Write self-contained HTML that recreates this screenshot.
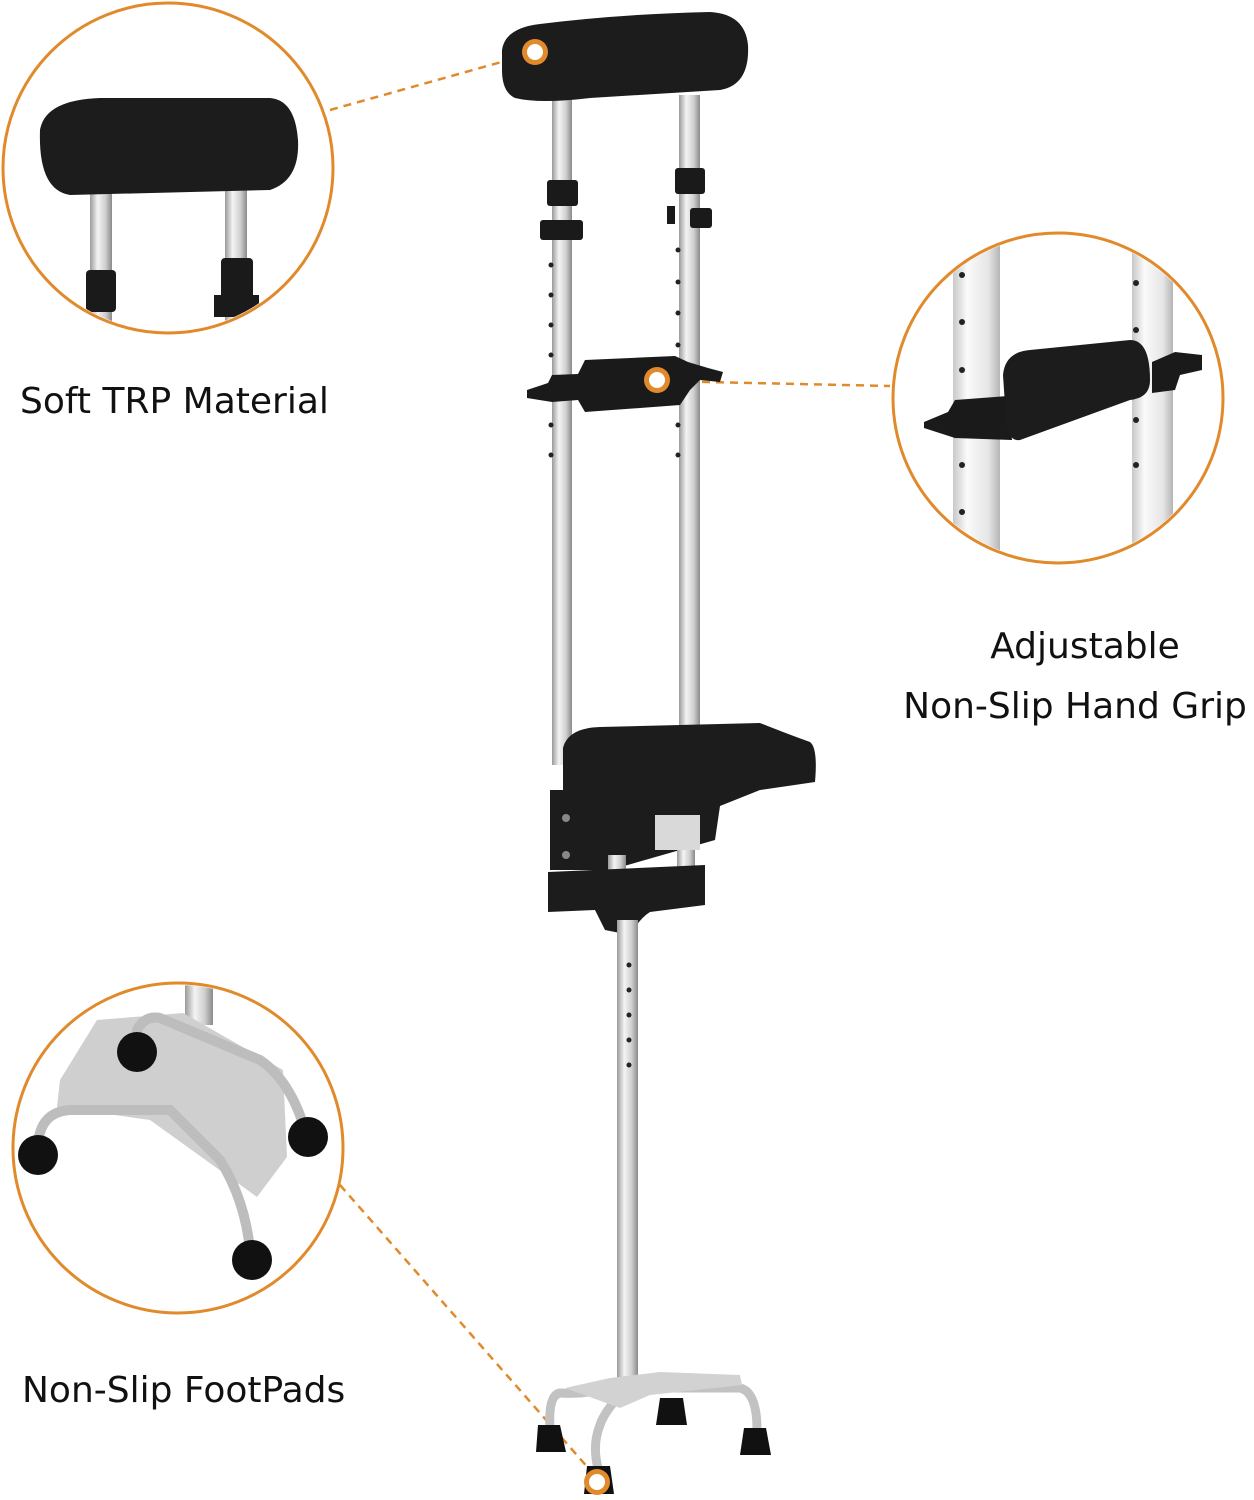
<!DOCTYPE html>
<html><head><meta charset="utf-8"><style>
html,body{margin:0;padding:0;background:#fff;width:1254px;height:1500px;overflow:hidden}
svg{display:block}
text{font-family:"DejaVu Sans","Liberation Sans",sans-serif;fill:#111}
</style></head><body>
<svg width="1254" height="1500" viewBox="0 0 1254 1500" xmlns="http://www.w3.org/2000/svg">
<defs>
<linearGradient id="al" x1="0" x2="1"><stop offset="0" stop-color="#9a9a9a"/><stop offset=".35" stop-color="#f4f4f4"/><stop offset=".7" stop-color="#cfcfcf"/><stop offset="1" stop-color="#8a8a8a"/></linearGradient>
<linearGradient id="al2" x1="0" x2="1"><stop offset="0" stop-color="#c8c8c8"/><stop offset=".3" stop-color="#fafafa"/><stop offset=".75" stop-color="#e6e6e6"/><stop offset="1" stop-color="#b5b5b5"/></linearGradient>
<clipPath id="c1"><circle cx="168" cy="168" r="163"/></clipPath>
<clipPath id="c2"><circle cx="1058" cy="398" r="163"/></clipPath>
<clipPath id="c3"><circle cx="178" cy="1148" r="163"/></clipPath>
</defs>

<g stroke="#e08a2c" stroke-width="2.5" stroke-dasharray="8,6" fill="none">
<line x1="330" y1="110" x2="530" y2="54"/>
<line x1="660" y1="381" x2="890" y2="386"/>
<line x1="340" y1="1185" x2="597" y2="1478"/>
</g>

<!-- upper tubes -->
<rect x="552" y="95" width="20" height="670" fill="url(#al)"/>
<rect x="679" y="95" width="21" height="640" fill="url(#al)"/>
<g fill="#222">
<circle cx="551" cy="265" r="2.5"/><circle cx="551" cy="295" r="2.5"/><circle cx="551" cy="325" r="2.5"/><circle cx="551" cy="355" r="2.5"/><circle cx="551" cy="425" r="2.5"/><circle cx="551" cy="455" r="2.5"/>
<circle cx="678" cy="250" r="2.5"/><circle cx="678" cy="282" r="2.5"/><circle cx="678" cy="313" r="2.5"/><circle cx="678" cy="345" r="2.5"/><circle cx="678" cy="425" r="2.5"/><circle cx="678" cy="455" r="2.5"/>
</g>
<rect x="547" y="180" width="31" height="26" rx="3" fill="#1a1a1a"/>
<rect x="675" y="168" width="30" height="26" rx="3" fill="#1a1a1a"/>
<rect x="540" y="220" width="43" height="20" rx="3" fill="#1a1a1a"/>
<rect x="690" y="208" width="22" height="20" rx="3" fill="#1a1a1a"/>
<rect x="667" y="206" width="8" height="18" fill="#1a1a1a"/>
<!-- headrest -->
<path d="M502 50 Q505 28 540 24 Q620 14 710 12 Q745 14 748 45 Q750 85 720 90 L590 98 Q540 104 515 98 Q502 92 502 70 Z" fill="#1c1c1c"/>
<!-- hand grip -->
<path d="M527 390 L548 383 L552 375 L578 374 L585 360 L675 356 L688 362 L708 368 L723 372 L720 382 L700 380 L690 390 L680 405 L585 412 L578 400 L552 402 L527 398 Z" fill="#1a1a1a"/>
<!-- armrest -->
<path d="M563 748 Q568 728 600 727 L760 723 Q790 735 810 742 Q818 748 815 782 L760 790 L720 806 L715 840 L610 870 L550 870 L550 790 L563 790 Z" fill="#1c1c1c"/>
<rect x="655" y="815" width="45" height="35" fill="#d9d9d9"/>
<rect x="608" y="855" width="18" height="20" fill="url(#al)"/>
<rect x="677" y="850" width="18" height="22" fill="url(#al)"/>
<path d="M548 872 L705 865 L705 905 L650 912 Q640 918 630 935 L605 930 L595 910 L548 912 Z" fill="#1c1c1c"/>
<circle cx="566" cy="818" r="4" fill="#888"/><circle cx="566" cy="855" r="4" fill="#888"/>
<!-- lower tube -->
<rect x="617" y="920" width="21" height="460" fill="url(#al)"/>
<g fill="#222"><circle cx="629" cy="965" r="2.5"/><circle cx="629" cy="990" r="2.5"/><circle cx="629" cy="1015" r="2.5"/><circle cx="629" cy="1040" r="2.5"/><circle cx="629" cy="1065" r="2.5"/></g>
<!-- base -->
<g fill="none" stroke="#c2c2c2" stroke-width="9" stroke-linecap="round">
<path d="M612 1385 Q590 1395 560 1393 Q548 1395 550 1428"/>
<path d="M625 1390 Q605 1410 600 1425 Q592 1445 598 1468"/>
<path d="M640 1388 L740 1388 Q757 1392 757 1430"/>
</g>
<path d="M565 1388 L610 1378 L660 1372 L740 1375 L742 1385 L650 1395 L620 1408 Z" fill="#d2d2d2"/>
<g fill="#111">
<path d="M538 1425 L560 1425 L566 1452 L536 1452 Z"/>
<path d="M587 1466 L610 1466 L614 1494 L584 1494 Z"/>
<path d="M660 1398 L683 1398 L687 1425 L656 1425 Z"/>
<path d="M744 1428 L766 1428 L771 1455 L740 1455 Z"/>
</g>

<g>
<circle cx="535" cy="52" r="13" fill="#e08a2c"/><circle cx="535" cy="52" r="8" fill="#fff"/>
<circle cx="657" cy="380" r="13" fill="#e08a2c"/><circle cx="657" cy="380" r="8" fill="#fff"/>
<circle cx="597" cy="1482" r="13" fill="#e08a2c"/><circle cx="597" cy="1482" r="8" fill="#fff"/>
</g>

<!-- circle 1 -->
<g clip-path="url(#c1)">
<rect x="90" y="170" width="22" height="170" fill="url(#al)"/>
<rect x="225" y="170" width="22" height="170" fill="url(#al)"/>
<rect x="86" y="270" width="30" height="42" rx="4" fill="#1a1a1a"/>
<rect x="221" y="258" width="32" height="42" rx="4" fill="#1a1a1a"/>
<rect x="214" y="295" width="45" height="22" fill="#1a1a1a"/>
<path d="M40 130 Q45 100 100 98 L270 98 Q295 100 298 140 Q300 180 270 190 L70 195 Q38 190 40 130 Z" fill="#1c1c1c"/>
</g>
<circle cx="168" cy="168" r="165" fill="none" stroke="#e08a2c" stroke-width="3"/>

<!-- circle 2 -->
<g clip-path="url(#c2)">
<rect x="953" y="230" width="47" height="340" fill="url(#al2)"/>
<rect x="1132" y="230" width="41" height="340" fill="url(#al2)"/>
<g fill="#222"><circle cx="962" cy="275" r="3"/><circle cx="962" cy="322" r="3"/><circle cx="962" cy="370" r="3"/><circle cx="962" cy="465" r="3"/><circle cx="962" cy="512" r="3"/><circle cx="1136" cy="283" r="3"/><circle cx="1136" cy="330" r="3"/><circle cx="1136" cy="420" r="3"/><circle cx="1136" cy="465" r="3"/></g>
<path d="M924 422 L948 412 L955 400 L1008 396 L1012 440 L955 438 L924 428 Z" fill="#1a1a1a"/>
<path d="M1003 375 Q1005 352 1030 350 L1130 340 Q1150 340 1150 380 Q1150 398 1130 400 L1020 440 Q1008 442 1006 420 Z" fill="#1c1c1c"/>
<path d="M1152 362 L1175 352 L1202 355 L1202 370 L1180 375 L1175 390 L1152 393 Z" fill="#1a1a1a"/>
</g>
<circle cx="1058" cy="398" r="165" fill="none" stroke="#e08a2c" stroke-width="3"/>

<!-- circle 3 -->
<g clip-path="url(#c3)">
<rect x="185" y="980" width="28" height="45" fill="url(#al)"/>
<path d="M60 1080 L97 1020 L183 1013 L283 1070 L287 1157 L257 1197 L150 1120 L57 1107 Z" fill="#cfcfcf"/>
<g fill="none" stroke="#bdbdbd" stroke-width="10" stroke-linecap="round">
<path d="M38 1145 Q40 1112 70 1110 L170 1110 L220 1160 Q245 1200 250 1250"/>
<path d="M137 1030 Q145 1015 160 1018 L260 1060 Q290 1080 305 1130"/>
</g>
<g fill="#111">
<circle cx="137" cy="1052" r="20"/>
<circle cx="38" cy="1155" r="20"/>
<circle cx="308" cy="1137" r="20"/>
<circle cx="252" cy="1260" r="20"/>
</g>
</g>
<circle cx="178" cy="1148" r="165" fill="none" stroke="#e08a2c" stroke-width="3"/>

<text x="20" y="413" font-size="36">Soft TRP Material</text>
<text x="1085" y="658" font-size="36" text-anchor="middle">Adjustable</text>
<text x="1075" y="718" font-size="36" text-anchor="middle">Non-Slip Hand Grip</text>
<text x="22" y="1402" font-size="36">Non-Slip FootPads</text>
</svg>
</body></html>
